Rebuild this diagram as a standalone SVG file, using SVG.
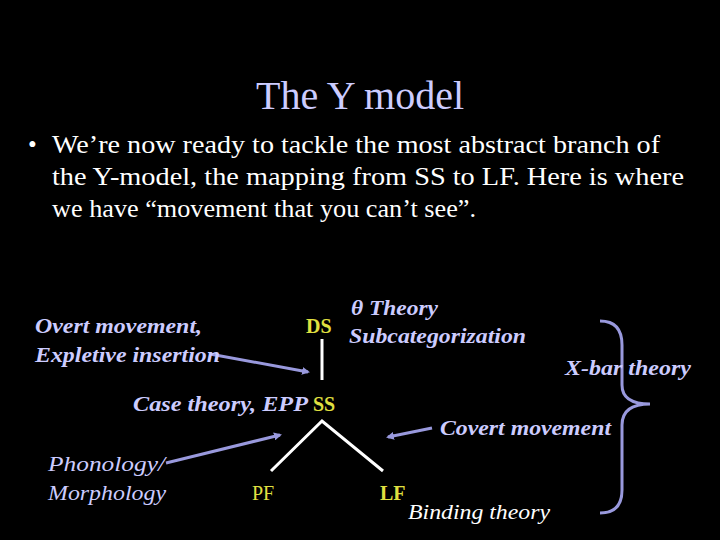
<svg xmlns="http://www.w3.org/2000/svg" width="720" height="540" viewBox="0 0 720 540" font-family="'Times New Roman', 'Liberation Serif', 'Noto Serif', serif">
<defs>
<style>
text{font-family:'Times New Roman','Liberation Serif','Noto Serif',serif}
.lav{fill:#ccccff}
.yel{fill:#e0e040;font-weight:bold}
.it{font-style:italic;font-weight:bold}
.c{stroke:#9999dd;stroke-width:3;fill:none}
.w{stroke:#fff;stroke-width:3;fill:none}
</style>
<marker id="a" markerWidth="8" markerHeight="8" refX="6" refY="4" orient="auto" markerUnits="userSpaceOnUse"><path d="M0,0L8,4L0,8z" fill="#9999dd"/></marker>
</defs>
<rect width="720" height="540" fill="#000"/>
<g id="title"><text class="lav" x="360" y="109" font-size="40" text-anchor="middle">The Y model</text></g>
<g id="bullet" fill="#fff" font-size="25">
<text x="28" y="153">•</text>
<text x="52" y="153" textLength="608" lengthAdjust="spacingAndGlyphs">We’re now ready to tackle the most abstract branch of</text>
<text x="52" y="185" textLength="632" lengthAdjust="spacingAndGlyphs">the Y-model, the mapping from SS to LF. Here is where</text>
<text x="52" y="217" textLength="424" lengthAdjust="spacingAndGlyphs">we have “movement that you can’t see”.</text>
</g>
<g id="connectors">
<line class="w" x1="322" y1="339" x2="322" y2="380"/>
<polyline class="w" points="271,471 322,421 383,471"/>
<line class="c" x1="210" y1="354" x2="308" y2="372" marker-end="url(#a)"/>
<line class="c" x1="432" y1="428" x2="388" y2="437" marker-end="url(#a)"/>
<line class="c" x1="166" y1="463" x2="280" y2="435" marker-end="url(#a)"/>
<path class="c" d="M600,321 Q622,321 622,345 L622,385 Q622,404 650,404 Q622,404 622,425 L622,490 Q622,513 600,513"/>
</g>
<g id="ds"><text class="yel" x="306" y="333" font-size="20">DS</text></g>
<g id="ss"><text class="yel" x="313" y="411" font-size="20">SS</text></g>
<g id="pf"><text fill="#e0e040" x="252" y="500" font-size="20">PF</text></g>
<g id="lf"><text class="yel" x="380" y="500" font-size="20">LF</text></g>
<g id="theta"><text class="lav it" x="351" y="315" font-size="22" textLength="87" lengthAdjust="spacingAndGlyphs">θ Theory</text><text class="lav it" x="349" y="343" font-size="22" textLength="177" lengthAdjust="spacingAndGlyphs">Subcategorization</text></g>
<g id="overt"><text class="lav it" x="35" y="333" font-size="22" textLength="167" lengthAdjust="spacingAndGlyphs">Overt movement,</text><text class="lav it" x="35" y="362" font-size="22" textLength="185" lengthAdjust="spacingAndGlyphs">Expletive insertion</text></g>
<g id="case"><text class="lav it" x="133" y="411" font-size="22" textLength="175" lengthAdjust="spacingAndGlyphs">Case theory, EPP</text></g>
<g id="covert"><text class="lav it" x="440" y="435" font-size="22" textLength="171" lengthAdjust="spacingAndGlyphs">Covert movement</text></g>
<g id="xbar"><text class="lav it" x="565" y="375" font-size="22" textLength="126" lengthAdjust="spacingAndGlyphs">X-bar theory</text></g>
<g id="phon"><text class="lav" font-style="italic" x="48" y="471" font-size="22" textLength="117" lengthAdjust="spacingAndGlyphs">Phonology/</text><text class="lav" font-style="italic" x="48" y="500" font-size="22" textLength="118" lengthAdjust="spacingAndGlyphs">Morphology</text></g>
<g id="binding"><text fill="#fff" font-style="italic" x="408" y="519" font-size="22" textLength="142" lengthAdjust="spacingAndGlyphs">Binding theory</text></g>
</svg>
